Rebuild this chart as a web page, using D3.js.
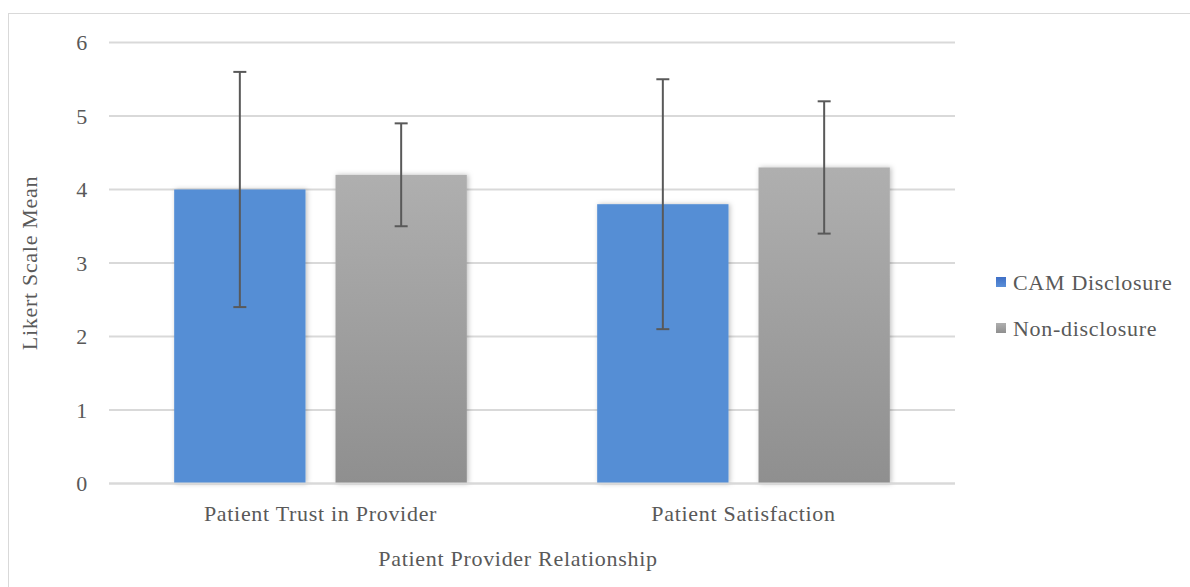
<!DOCTYPE html>
<html><head><meta charset="utf-8">
<script src="https://cdn.jsdelivr.net/npm/d3@7/dist/d3.min.js"></script>
<style>body{margin:0;background:#fff;} text{font-family:"Liberation Serif","Times New Roman",serif;fill:#595959;letter-spacing:0.7px;}</style>
</head><body><svg id="c" width="1190" height="587"></svg>
<script>
const categories = ["Patient Trust in Provider", "Patient Satisfaction"];
const seriesNames = ["CAM Disclosure", "Non-disclosure"];
const camMeans = [4.0, 3.8];
const camErr = [1.6, 1.7];
const nonMeans = [4.2, 4.3];
const nonErr = [0.7, 0.9];
const yTicks = [0, 1, 2, 3, 4, 5, 6];

const svg = d3.select("#c");
const defs = svg.append("defs");
const gGray = defs.append("linearGradient").attr("id","gg").attr("x1",0).attr("y1",0).attr("x2",0).attr("y2",1);
gGray.append("stop").attr("offset","0%").attr("stop-color","#afafaf");
gGray.append("stop").attr("offset","100%").attr("stop-color","#8f8f8f");
const gLeg = defs.append("linearGradient").attr("id","gl").attr("x1",0).attr("y1",0).attr("x2",0).attr("y2",1);
gLeg.append("stop").attr("offset","0%").attr("stop-color","#3f6fc6");
gLeg.append("stop").attr("offset","100%").attr("stop-color","#5a8fd8");
const f = defs.append("filter").attr("id","sh").attr("x","-10%").attr("y","-10%").attr("width","130%").attr("height","120%");
f.append("feDropShadow").attr("dx",1.5).attr("dy",0).attr("stdDeviation",2.5).attr("flood-color","#000").attr("flood-opacity",0.25);

// chart border
svg.append("rect").attr("x",8.5).attr("y",13.5).attr("width",1200).attr("height",600)
  .attr("fill","none").attr("stroke","#d9d9d9").attr("stroke-width",1);

const pL = 109, pR = 955, pT = 42.5, pB = 483.5;
const y = d3.scaleLinear().domain([0,6]).range([pB, pT]);
const x0 = d3.scaleBand().domain(categories).range([pL,pR]).paddingInner(0).paddingOuter(0);
const x1 = d3.scaleBand().domain(seriesNames).range([0, x0.bandwidth()]).paddingInner(0.186).paddingOuter(0.404);

// gridlines
svg.append("g").selectAll("line").data(yTicks).join("line")
  .attr("x1",pL).attr("x2",pR).attr("y1",d=>y(d)).attr("y2",d=>y(d))
  .attr("stroke","#d9d9d9").attr("stroke-width",2);

// y tick labels
const yAxis = svg.append("g").attr("transform",`translate(${pL},0)`)
  .call(d3.axisLeft(y).tickValues(yTicks).tickSize(0).tickPadding(21).tickFormat(d3.format("d")));
yAxis.select(".domain").remove();
yAxis.selectAll("text").style("font-size","22px").attr("fill","#595959").attr("font-family","Liberation Serif");

const data = categories.map((c,i)=>[
  {cat:c, s:seriesNames[0], v:camMeans[i], e:camErr[i], fill:"#558ed5"},
  {cat:c, s:seriesNames[1], v:nonMeans[i], e:nonErr[i], fill:"url(#gg)"}
]).flat();

svg.append("g").selectAll("rect").data(data).join("rect")
  .attr("x",d=>x0(d.cat)+x1(d.s)).attr("width",x1.bandwidth())
  .attr("y",d=>y(d.v)).attr("height",d=>pB-y(d.v))
  .attr("fill",d=>d.fill).attr("filter","url(#sh)");

// axis line redraw on top
svg.append("line").attr("x1",pL).attr("x2",pR).attr("y1",pB).attr("y2",pB)
  .attr("stroke","#d9d9d9").attr("stroke-width",2);

// error bars
const eb = svg.append("g").attr("stroke","#595959").attr("stroke-width",2);
data.forEach(d=>{
  const cx = x0(d.cat)+x1(d.s)+x1.bandwidth()/2;
  eb.append("line").attr("x1",cx).attr("x2",cx).attr("y1",y(d.v+d.e)).attr("y2",y(d.v-d.e));
  [d.v+d.e, d.v-d.e].forEach(t=>eb.append("line").attr("x1",cx-6.5).attr("x2",cx+6.5).attr("y1",y(t)).attr("y2",y(t)));
});

// category labels
svg.append("g").selectAll("text").data(categories).join("text")
  .attr("x",d=>x0(d)+x0.bandwidth()/2).attr("y",521).attr("text-anchor","middle")
  .style("font-size","22px").text(d=>d);

// axis titles
svg.append("text").attr("x",518).attr("y",566).attr("text-anchor","middle")
  .style("font-size","22px").text("Patient Provider Relationship");
svg.append("text").attr("transform",`translate(37,${(pT+pB)/2}) rotate(-90)`).attr("text-anchor","middle")
  .style("font-size","22px").text("Likert Scale Mean");

// legend
const lg = svg.append("g").selectAll("g").data(seriesNames).join("g")
  .attr("transform",(d,i)=>`translate(996,${277+i*46})`);
lg.append("rect").attr("width",10).attr("height",10).attr("fill",(d,i)=>i?"url(#gg)":"url(#gl)");
lg.append("text").attr("x",17).attr("y",13).style("font-size","22px").text(d=>d);
</script></body></html>
